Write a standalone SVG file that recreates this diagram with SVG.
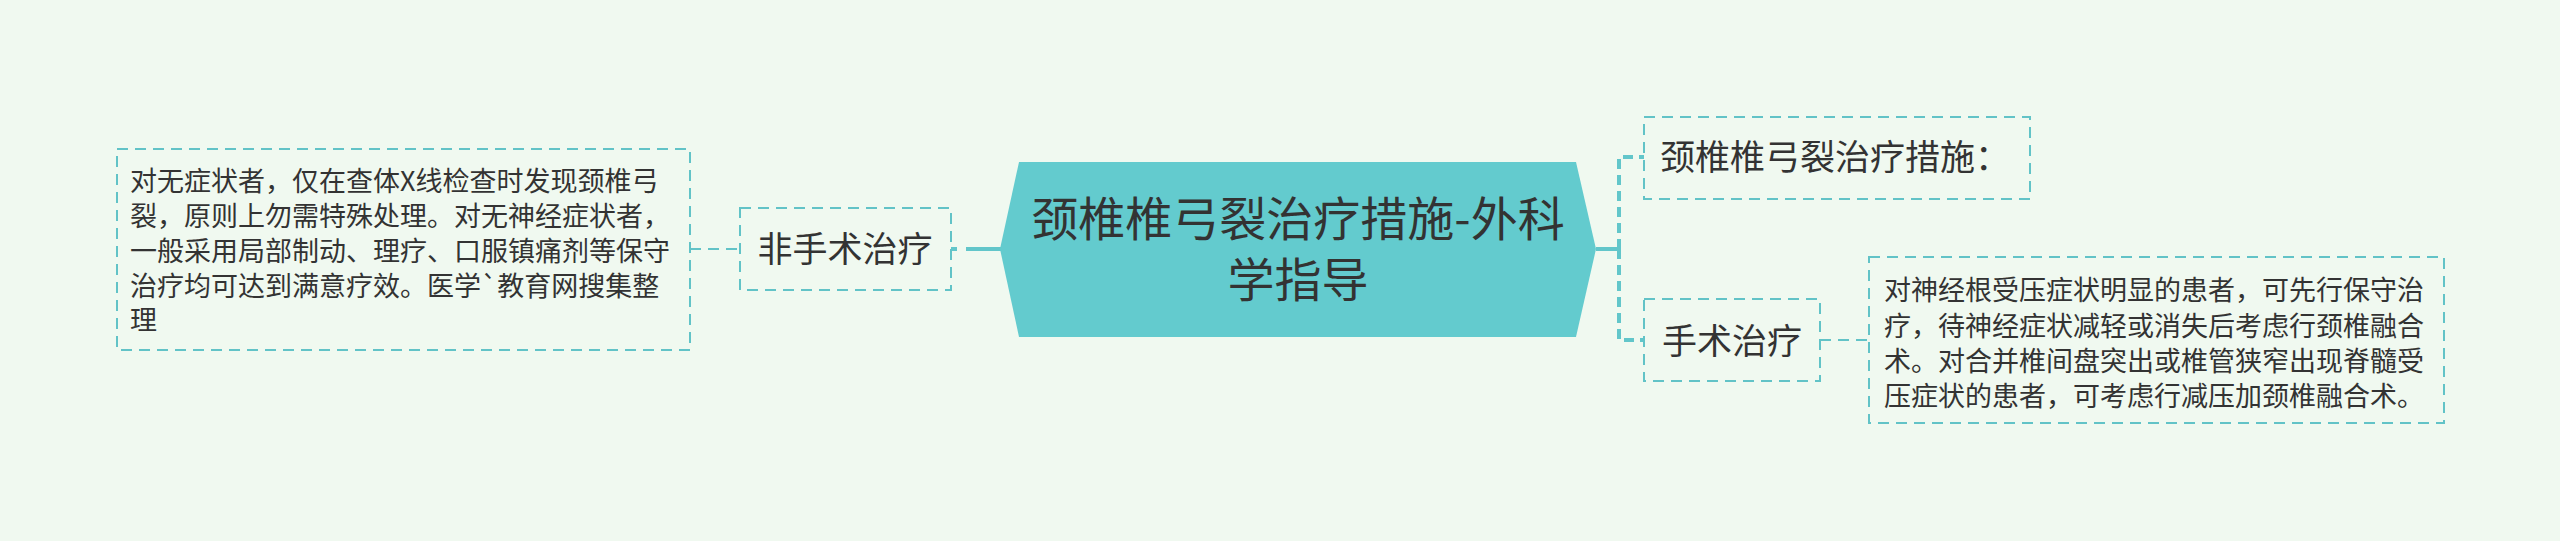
<svg xmlns="http://www.w3.org/2000/svg" width="2560" height="541" viewBox="0 0 2560 541">
<style>
.bg{fill:#F0F9F0}
.box{fill:none;stroke:#62C3C7;stroke-width:2;stroke-dasharray:11 7}
.thin{fill:none;stroke:#62C3C7;stroke-width:2;stroke-dasharray:11 7}
.thick{fill:none;stroke:#62C6CA;stroke-width:4}
.thickd{fill:none;stroke:#62C6CA;stroke-width:4;stroke-dasharray:10 6}
text{font-family:"Noto Sans CJK SC","Noto Sans",sans-serif;fill:#333333}
.s{font-size:27px}
.m{font-size:35px}
.l{font-size:47px}
</style>
<rect class="bg" x="0" y="0" width="2560" height="541"/>
<g id="connectors">
  <line class="thin" x1="690" y1="249" x2="740" y2="249"/>
  <line class="thick" x1="966" y1="249" x2="1001" y2="249"/>
  <line class="thick" x1="951" y1="249" x2="957" y2="249"/>
  <line class="thick" x1="1596" y1="249" x2="1619" y2="249"/>
  <path class="thickd" d="M1619,249 V157 H1644"/>
  <path class="thickd" d="M1619,249 V340 H1644"/>
  <line class="thin" x1="1820" y1="340" x2="1869" y2="340"/>
</g>
<g id="root">
  <polygon points="1019,162 1576,162 1596,249 1576,337 1019,337 1000,249" fill="#63CBCE"/>
  <text class="l" x="1298" y="236" text-anchor="middle">颈椎椎弓裂治疗措施-外科</text>
  <text class="l" x="1298" y="297" text-anchor="middle">学指导</text>
</g>
<g id="n-nonsurgical">
  <rect class="box" x="740" y="208" width="211" height="82"/>
  <text class="m" x="845" y="262" text-anchor="middle">非手术治疗</text>
</g>
<g id="n-nonsurgical-detail">
  <rect class="box" x="117" y="149" width="573" height="201"/>
  <text class="s" x="130">
    <tspan x="130" y="191">对无症状者，仅在查体X线检查时发现颈椎弓</tspan>
    <tspan x="130" y="226">裂，原则上勿需特殊处理。对无神经症状者，</tspan>
    <tspan x="130" y="261">一般采用局部制动、理疗、口服镇痛剂等保守</tspan>
    <tspan x="130" y="296">治疗均可达到满意疗效。医学`教育网搜集整</tspan>
    <tspan x="130" y="330">理</tspan>
  </text>
</g>
<g id="n-measures">
  <rect class="box" x="1644" y="117" width="386" height="82"/>
  <text class="m" x="1660" y="170">颈椎椎弓裂治疗措施：</text>
</g>
<g id="n-surgical">
  <rect class="box" x="1644" y="299" width="176" height="82"/>
  <text class="m" x="1732" y="354" text-anchor="middle">手术治疗</text>
</g>
<g id="n-surgical-detail">
  <rect class="box" x="1869" y="257" width="575" height="166"/>
  <text class="s">
    <tspan x="1884" y="300">对神经根受压症状明显的患者，可先行保守治</tspan>
    <tspan x="1884" y="336">疗，待神经症状减轻或消失后考虑行颈椎融合</tspan>
    <tspan x="1884" y="371">术。对合并椎间盘突出或椎管狭窄出现脊髓受</tspan>
    <tspan x="1884" y="406">压症状的患者，可考虑行减压加颈椎融合术。</tspan>
  </text>
</g>
</svg>
